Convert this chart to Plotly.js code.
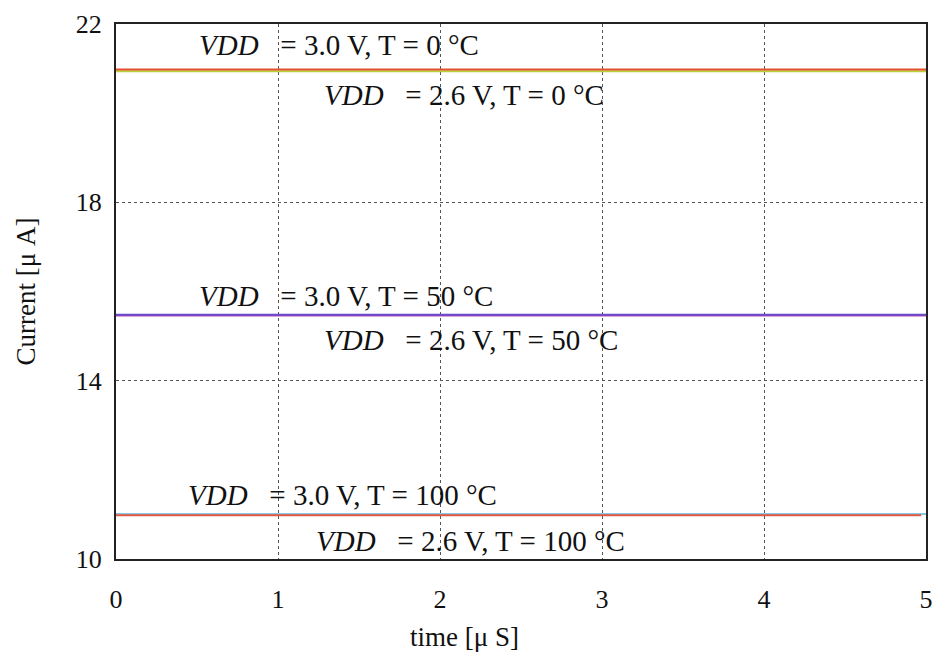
<!DOCTYPE html>
<html>
<head>
<meta charset="utf-8">
<script src="https://cdn.plot.ly/plotly-3.0.1.min.js"></script>
<style>html,body{margin:0;padding:0;background:#fff;}#chart{width:947px;height:656px;}</style>
</head>
<body>
<div id="chart"></div>
<script>
// time samples [µs]
const time = [0, 1, 2, 3, 4, 5];
const timeShort = [0, 1, 2, 3, 4, 4.97];
// currents [µA]
const i30_T0 = [20.98, 20.98, 20.98, 20.98, 20.98, 20.98];
const i26_T0 = [20.94, 20.94, 20.94, 20.94, 20.94, 20.94];
const i30_T50 = [15.48, 15.48, 15.48, 15.48, 15.48, 15.48];
const i26_T50 = [15.46, 15.46, 15.46, 15.46, 15.46, 15.46];
const i30_T100 = [11.01, 11.01, 11.01, 11.01, 11.01, 11.01];
const i26_T100 = [10.98, 10.98, 10.98, 10.98, 10.98, 10.98];

const SP = "\u00a0\u00a0\u00a0";
const labels = [
  {text: "<i>VDD</i>" + SP + "= 3.0 V, T = 0 °C", x: 0.5, y: 21.53},
  {text: "<i>VDD</i>" + SP + "= 2.6 V, T = 0 °C", x: 1.27, y: 20.41},
  {text: "<i>VDD</i>" + SP + "= 3.0 V, T = 50 °C", x: 0.5, y: 15.9},
  {text: "<i>VDD</i>" + SP + "= 2.6 V, T = 50 °C", x: 1.27, y: 14.91},
  {text: "<i>VDD</i>" + SP + "= 3.0 V, T = 100 °C", x: 0.43, y: 11.43},
  {text: "<i>VDD</i>" + SP + "= 2.6 V, T = 100 °C", x: 1.22, y: 10.40}
];

const serif = "Liberation Serif, Times New Roman, serif";

const traces = [
  {x: time, y: i26_T0, color: "#b9cf3c"},
  {x: time, y: i30_T0, color: "#e5502c"},
  {x: time, y: i26_T50, color: "#b44cb4"},
  {x: time, y: i30_T50, color: "#6a48cc"},
  {x: time, y: i30_T100, color: "#86c9e6"},
  {x: timeShort, y: i26_T100, color: "#e2583e"}
].map(t => ({
  x: t.x, y: t.y, type: "scatter", mode: "lines",
  line: {color: t.color, width: 2}, hoverinfo: "skip", showlegend: false
}));

const annotations = labels.map(l => ({
  text: l.text, x: l.x, y: l.y, xref: "x", yref: "y",
  xanchor: "left", yanchor: "middle", showarrow: false,
  font: {family: serif, size: 29, color: "#111"}
}));
annotations.push({
  text: "time [μ S]", xref: "paper", yref: "paper", x: 0.43, y: -0.145,
  xanchor: "center", yanchor: "middle", showarrow: false,
  font: {family: serif, size: 27, color: "#111"}
});

const layout = {
  width: 947, height: 656,
  margin: {l: 116, r: 21, t: 24, b: 97},
  paper_bgcolor: "#fff", plot_bgcolor: "#fff",
  showlegend: false,
  xaxis: {
    range: [0, 5], tickvals: [0, 1, 2, 3, 4, 5],
    showgrid: true, gridcolor: "#555", griddash: "3px,3px", gridwidth: 1,
    zeroline: false, showline: true, mirror: true, linecolor: "#222", linewidth: 2,
    ticks: "", ticklabelstandoff: 16,
    tickfont: {family: serif, size: 26, color: "#111"}
  },
  yaxis: {
    range: [10, 22], tickvals: [10, 14, 18, 22],
    showgrid: true, gridcolor: "#555", griddash: "3px,3px", gridwidth: 1,
    zeroline: false, showline: true, mirror: true, linecolor: "#222", linewidth: 2,
    ticks: "", ticklabelstandoff: 7,
    tickfont: {family: serif, size: 26, color: "#111"},
    title: {text: "Current [μ A]", font: {family: serif, size: 27, color: "#111"}, standoff: 32}
  },
  annotations: annotations
};

Plotly.newPlot("chart", traces, layout, {displayModeBar: false, staticPlot: true});
</script>
</body>
</html>
